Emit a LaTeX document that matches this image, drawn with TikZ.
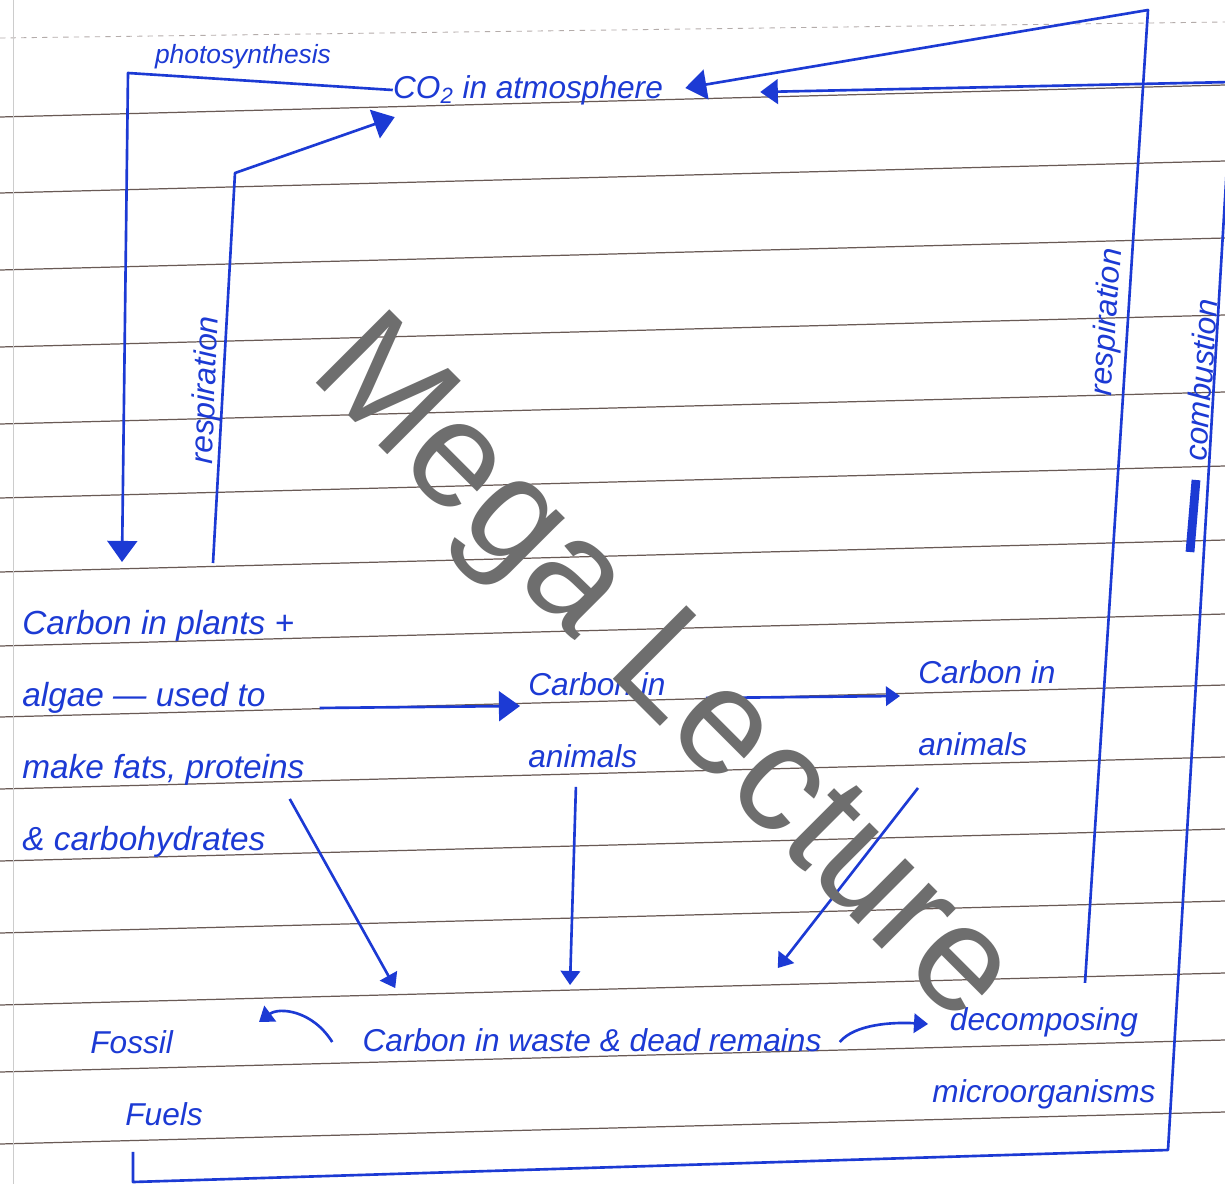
\documentclass[tikz,border=0pt]{standalone}
\usepackage{fontspec}
\setmainfont{Liberation Sans}
\usetikzlibrary{arrows.meta,positioning,calc}
\definecolor{inkblue}{RGB}{28,58,212}
\definecolor{ruleline}{RGB}{105,90,85}
\definecolor{markgray}{RGB}{110,110,110}
\newcommand{\handsize}{\fontsize{18}{41}\selectfont\itshape}
\newcommand{\bighand}{\fontsize{19}{41}\selectfont\itshape}

\begin{document}
\begin{tikzpicture}[x=0.02cm,y=-0.02cm,
  hand/.style={text=inkblue,font=\handsize,inner sep=0pt},
  flow/.style={draw=inkblue,line width=1.5pt,line join=round,-{Triangle[length=12pt,width=17pt]}},
  flowsmall/.style={flow,-{Triangle[length=8pt,width=11pt]}},
  flowmid/.style={flow,-{Triangle[length=10pt,width=14pt]}},
  rule/.style={draw=ruleline,line width=0.7pt}]
\useasboundingbox (0,0) rectangle (1225,1184);
% ruled paper
\fill[white] (0,0) rectangle (1225,1184);
\draw[ruleline!50,dashed,line width=0.5pt] (0,38) -- (1225,22);
\foreach \y in {117,193,270,347,424,498,572,646,717,789,861,933,1005,1072,1144}
  \draw[rule] (0,\y) -- (1225,\y-32);
\draw[black!20] (13,0) -- (13,1184);

% texts
\node[hand] (co2) at (528,90) {CO\textsubscript{2} in atmosphere};
\node[hand,font=\fontsize{15}{16}\selectfont\itshape] (photo) at (243,57) {photosynthesis};
\node[hand,font=\bighand,align=left,anchor=north west] (plants) at (22,610)
  {Carbon in plants +\\algae \textemdash{} used to\\make fats, proteins\\\& carbohydrates};
\node[hand,align=left,anchor=north west] (animalsA) at (528,672) {Carbon in\\animals};
\node[hand,align=left,anchor=north west] (animalsB) at (918,660) {Carbon in\\animals};
\node[hand] (waste) at (592,1040) {Carbon in waste \& dead remains};
\node[hand,align=left,anchor=north west] (fossil) at (90,1030) {Fossil\\\hspace*{0.7cm}Fuels};
\node[hand,align=center] (decomp) at (1044,1058) {decomposing\\microorganisms};
\node[hand,rotate=88] (respL) at (207,390) {respiration};
\node[hand,rotate=86] (respR) at (1108,322) {respiration};
\node[hand,rotate=86] (comb) at (1201,380) {combustion};
\draw[inkblue,line width=5pt] (1196,480) -- (1190,552);

% cycle arrows
\draw[flow] (co2.west) -- (128,73) -- ($(plants.north west)+(100,-48)$);
\draw[flow] ($(plants.north west)+(191,-47)$) -- (235,173) -- ($(co2.south west)+(2,12)$);
\draw[flow] ($(decomp.north)+(41,-24)$) -- (1148,10) -- ($(co2.east)+(22,-2)$);
\draw[flowmid] ($(fossil.south west)+(43,26)$) -- (133,1182) -- (1168,1150) -- (1232,82) -- ($(co2.east)+(97,2)$);
\draw[flow] ($(plants.east)+(15,-26)$) -- ($(animalsA.west)+(-8,-14)$);
\draw[flowsmall] ($(animalsA.east)+(40,-22)$) -- ($(animalsB.west)+(-18,-12)$);
\draw[flowsmall] ($(plants.south east)+(-15,-59)$) -- ($(waste.north west)+(33,-40)$);
\draw[flowsmall] ($(animalsA.south)+(-21,19)$) -- ($(waste.north)+(-22,-43)$);
\draw[flowsmall] ($(animalsB.south west)+(0,32)$) -- ($(waste.north east)+(-44,-60)$);
\draw[flowsmall] ($(waste.west)+(-30,2)$) .. controls +(-20,-32) and +(20,-15) .. ($(fossil.north east)+(56,-8)$);
\draw[flowsmall] ($(waste.east)+(18,2)$) .. controls +(15,-18) and +(-35,-2) .. ($(decomp.west)+(-4,-34)$);

% watermark
\node[text=markgray,font=\fontsize{86}{86}\selectfont,rotate=-45] (mark) at (660,675) {Mega Lecture};
\end{tikzpicture}
\end{document}
